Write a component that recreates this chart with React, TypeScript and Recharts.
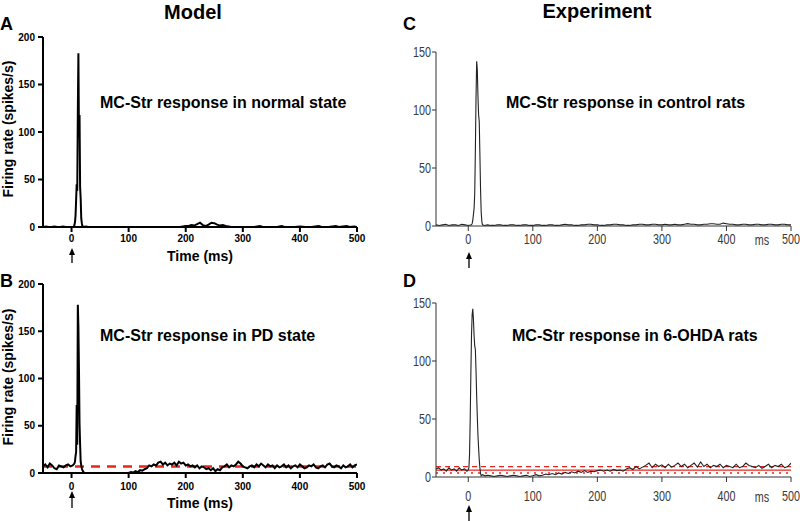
import React from "react";
import { LineChart, Line, XAxis, YAxis, ReferenceLine } from "recharts";

// ---------- data (time in ms, firing rate in spikes/s) ----------
const xTicks = [0, 100, 200, 300, 400, 500];
const modelYTicks = [0, 50, 100, 150, 200];
const expYTicks = [0, 50, 100, 150];

const modelNormal: [number, number][] = [
  [-50, 0], [-45, 0.5], [-40, 0], [-35, 0], [-30, 0.5], [-25, 0], [-20, 0], [-15, 0.5], [-10, 0], [-5, 0], [0, 0],
  [4, 0], [5, 2], [6, 5], [7, 12], [8, 28], [9, 45], [10, 38], [11, 120], [12, 183], [13, 95], [14, 118], [15, 42],
  [16, 30], [17, 9], [18, 4], [19, 1], [20, 0], [25, 0.5], [30, 0], [40, 0], [50, 0], [60, 0], [70, 0], [80, 0],
  [90, 0], [100, 0], [110, 0], [120, 0], [130, 0], [140, 0], [150, 0], [160, 0], [170, 0], [180, 0], [190, 0],
  [195, 0.5], [200, 1], [205, 1], [210, 2], [215, 1.5], [220, 3], [225, 4.5], [230, 2], [235, 1], [240, 2.5],
  [245, 4.5], [250, 4], [255, 2.5], [260, 1.5], [265, 2], [270, 1], [275, 0.5], [280, 0], [290, 0], [300, 0],
  [310, 0], [320, 0], [330, 1], [335, 0], [350, 0], [360, 0], [368, 1], [373, 0], [390, 0], [400, 0.5], [410, 0],
  [420, 0], [433, 1], [438, 0], [450, 0], [463, 1], [468, 0], [482, 1], [487, 0], [495, 0.5], [500, 0],
];

const modelPD: [number, number][] = [
  [-50, 7], [-46, 9], [-42, 6], [-38, 10], [-34, 8], [-30, 5], [-26, 4], [-22, 8], [-18, 7], [-14, 6], [-10, 8],
  [-6, 9], [-2, 7], [2, 8], [5, 10], [6, 12], [7, 18], [8, 22], [9, 72], [10, 30], [11, 178], [12, 155], [13, 110],
  [14, 52], [15, 30], [16, 12], [17, 8], [18, 5], [19, 3], [20, 2], [22, 0], [30, 0], [40, 0], [50, 0], [60, 0],
  [70, 0], [80, 0], [90, 0], [100, 0], [104, 1], [108, 0.5], [112, 2], [116, 1], [120, 3], [124, 2.5], [128, 4],
  [132, 5], [136, 8], [140, 7], [144, 9], [148, 8], [152, 11], [156, 12], [160, 9], [164, 11], [168, 8], [172, 10],
  [176, 9], [180, 11], [184, 8], [188, 12], [192, 10], [196, 11], [200, 8], [204, 9], [208, 7], [212, 8], [216, 6],
  [220, 8], [224, 5], [228, 7], [232, 6], [236, 4], [240, 5], [244, 3], [248, 5], [252, 2], [256, 4], [260, 3],
  [264, 6], [268, 7], [272, 9], [276, 6], [280, 8], [284, 7], [288, 9], [292, 12], [296, 10], [300, 7], [304, 6],
  [308, 5], [312, 7], [316, 8], [320, 6], [324, 9], [328, 7], [332, 10], [336, 8], [340, 6], [344, 9], [348, 7],
  [352, 8], [356, 5], [360, 8], [364, 6], [368, 7], [372, 9], [376, 6], [380, 8], [384, 5], [388, 7], [392, 8],
  [396, 6], [400, 9], [404, 7], [408, 5], [412, 6], [416, 8], [420, 7], [424, 9], [428, 6], [432, 5], [436, 7],
  [440, 8], [444, 6], [448, 9], [452, 10], [456, 7], [460, 6], [464, 8], [468, 7], [472, 5], [476, 8], [480, 6],
  [484, 7], [488, 9], [492, 6], [496, 8], [500, 9],
];

const expControl: [number, number][] = [
  [-50, 1], [-45, 0.5], [-40, 1], [-35, 1.5], [-30, 0.5], [-25, 1], [-20, 1], [-15, 0.5], [-10, 1.5], [-5, 1],
  [0, 0.5], [5, 1], [6, 2], [7, 5], [8, 10], [9, 15], [10, 28], [11, 65], [12, 110], [13, 142], [14, 135],
  [15, 112], [16, 96], [17, 90], [18, 62], [19, 32], [20, 12], [21, 4], [22, 1], [25, 0.5], [30, 1], [35, 0.5],
  [40, 0.5], [45, 1], [50, 1], [55, 0.5], [60, 0.5], [65, 1], [70, 1], [75, 0.5], [80, 0.5], [85, 1], [90, 1],
  [95, 0.5], [100, 0.5], [105, 1], [110, 1], [115, 0.5], [120, 0.5], [125, 1], [130, 1], [135, 0.5], [140, 0.5],
  [145, 1], [150, 1.5], [155, 1], [160, 1], [165, 0.5], [170, 0.5], [175, 1], [180, 1], [185, 1.5], [190, 1.5],
  [195, 1], [200, 1], [205, 0.5], [210, 0.5], [215, 1], [220, 1], [225, 1.5], [230, 1.5], [235, 1], [240, 1],
  [245, 0.5], [250, 0.5], [255, 1], [260, 1], [265, 1.5], [270, 1.5], [275, 1], [280, 1], [285, 1.5], [290, 1.5],
  [295, 1], [300, 1], [305, 1.5], [310, 1], [315, 1], [320, 1.5], [325, 1], [330, 1], [335, 1.5], [340, 2],
  [345, 1.5], [350, 1.5], [355, 1], [360, 1], [365, 1.5], [370, 1.5], [375, 2], [380, 2], [385, 1.5], [390, 1.5],
  [395, 2.5], [400, 2], [405, 1.5], [410, 1.5], [415, 1], [420, 1], [425, 1.5], [430, 1.5], [435, 1], [440, 1],
  [445, 1.5], [450, 1.5], [455, 1], [460, 1], [465, 1.5], [470, 1.5], [475, 1], [480, 1], [485, 1.5], [490, 1.5],
  [495, 1], [500, 1],
];

const expLesion: [number, number][] = [
  [-50, 7], [-46, 8], [-42, 6], [-38, 7], [-34, 5], [-30, 8], [-26, 6], [-22, 7], [-18, 5], [-14, 8], [-10, 6],
  [-6, 7], [-2, 5], [0, 6], [1, 8], [2, 20], [3, 50], [4, 88], [5, 122], [6, 140], [7, 145], [8, 136], [9, 122],
  [10, 113], [11, 110], [12, 92], [13, 70], [14, 52], [15, 36], [16, 25], [17, 15], [18, 8], [19, 3], [20, 1],
  [22, 2], [26, 1], [30, 1.5], [35, 1], [40, 0.5], [45, 1], [50, 1.5], [55, 1], [60, 0.5], [65, 1], [70, 1.5],
  [75, 1], [80, 0.5], [85, 1], [90, 1.5], [95, 0.5], [100, 1], [105, 2], [110, 1], [115, 1.5], [120, 2.5],
  [125, 2], [130, 3], [135, 2], [140, 3.5], [145, 2.5], [150, 4], [155, 3], [160, 4.5], [165, 3.5], [170, 5],
  [175, 4], [180, 5.5], [185, 4], [190, 5], [195, 4.5], [200, 5.5], [205, 6], [210, 5], [215, 6], [220, 5],
  [225, 6.5], [230, 5.5], [235, 6], [240, 5], [245, 7], [250, 8], [255, 6.5], [260, 9], [265, 7], [270, 8.5],
  [275, 10], [280, 12], [285, 8], [290, 11], [295, 9], [300, 10.5], [305, 8], [310, 11], [315, 8.5], [320, 10],
  [325, 12], [330, 9], [335, 11], [340, 8], [345, 10], [350, 12], [355, 8.5], [360, 13], [365, 9], [370, 11],
  [375, 8], [380, 10], [385, 9], [390, 11], [395, 8], [400, 10], [405, 9], [410, 8], [415, 11], [420, 8],
  [425, 9], [430, 12], [435, 10], [440, 9], [445, 8], [450, 10], [455, 7.5], [460, 9], [465, 11], [470, 8],
  [475, 10], [480, 9], [485, 11], [490, 8], [495, 9], [500, 12],
];

const pdBaseline = 7;
const lesionBaseline = 6;
const lesionUpper = 9;
const lesionLower = 3.5;

const titles = ["Model", "Experiment"];
const panelLetters = ["A", "B", "C", "D"];
const panelNotes = [
  "MC-Str response in normal state",
  "MC-Str response in PD state",
  "MC-Str response in control rats",
  "MC-Str response in 6-OHDA rats",
];
const yTitle = "Firing rate (spikes/s)";
const xTitle = "Time (ms)";
const unitLabel = "ms";

const RED = "#e8261e";
const SANS = "'Liberation Sans', Arial, Helvetica, sans-serif";
const CONDENSE = 0.72;
const COND_SIZE = 15;

const toRows = (pairs: [number, number][]) => pairs.map(([t, v]) => ({ t, v }));

// condensed tick labels for the experiment panels
const CondXTick = (p: any) => (
  <g transform={`translate(${p.x},${p.y})`}>
    <text transform={`scale(${CONDENSE},1)`} textAnchor="middle" dy="0.71em" fontSize={COND_SIZE} fill="#3a3a3a" fontFamily={SANS}>
      {p.payload.value}
    </text>
  </g>
);
const CondYTick = (p: any) => (
  <g transform={`translate(${p.x},${p.y})`}>
    <text transform={`scale(${CONDENSE},1)`} textAnchor="end" dy="0.355em" fontSize={COND_SIZE} fill="#3a3a3a" fontFamily={SANS}>
      {p.payload.value}
    </text>
  </g>
);

type RefSpec = { y: number; dash?: string; width: number };

function Panel(props: {
  left: number;
  top: number;
  width: number;
  height: number;
  mTop: number;
  mRight: number;
  yWidth: number;
  xHeight: number;
  data: [number, number][];
  yMax: number;
  yTicks: number[];
  kind: "model" | "exp";
  refs?: RefSpec[];
  xTickMargin: number;
}) {
  const model = props.kind === "model";
  const axisColor = model ? "#000" : "#333";
  const axisW = model ? 2 : 1;
  const tickStyle = { fontSize: 10, fontWeight: 700, fill: "#000", fontFamily: SANS };
  return (
    <div style={{ position: "absolute", left: props.left, top: props.top }}>
      <LineChart
        width={props.width}
        height={props.height}
        data={toRows(props.data)}
        margin={{ top: props.mTop, right: props.mRight, bottom: 0, left: 0 }}
      >
        <XAxis
          dataKey="t"
          type="number"
          domain={[-50, 500]}
          ticks={xTicks}
          interval={0}
          height={props.xHeight}
          tickSize={5}
          tickMargin={props.xTickMargin}
          axisLine={{ stroke: axisColor, strokeWidth: axisW }}
          tickLine={{ stroke: axisColor, strokeWidth: axisW }}
          tick={model ? tickStyle : CondXTick}
          allowDataOverflow
        />
        <YAxis
          type="number"
          domain={[0, props.yMax]}
          ticks={props.yTicks}
          interval={0}
          width={props.yWidth}
          tickSize={model ? 5 : 4}
          tickMargin={model ? 3 : 1}
          axisLine={{ stroke: axisColor, strokeWidth: axisW }}
          tickLine={{ stroke: axisColor, strokeWidth: axisW }}
          tick={model ? tickStyle : CondYTick}
          allowDataOverflow
        />
        {(props.refs || []).map((r, i) => (
          <ReferenceLine
            key={i}
            y={r.y}
            stroke={RED}
            strokeWidth={r.width}
            strokeDasharray={r.dash}
          />
        ))}
        <Line
          dataKey="v"
          type="linear"
          stroke={model ? "#000" : "#222"}
          strokeWidth={model ? 2 : 1.1}
          dot={false}
          isAnimationActive={false}
        />
      </LineChart>
    </div>
  );
}

function Arrow({ x, tip, tail }: { x: number; tip: number; tail: number }) {
  return (
    <g>
      <line x1={x} y1={tip + 3} x2={x} y2={tail} stroke="#000" strokeWidth={1.3} />
      <polygon points={`${x - 3},${tip + 7} ${x},${tip} ${x + 3},${tip + 7}`} fill="#000" />
    </g>
  );
}

export default function App() {
  return (
    <div
      style={{
        position: "absolute",
        left: 0,
        top: 0,
        width: 800,
        height: 521,
        background: "#fff",
        overflow: "hidden",
      }}
    >
      <Panel left={0} top={0} width={400} height={260} mTop={37} mRight={43} yWidth={43} xHeight={33}
        data={modelNormal} yMax={200} yTicks={modelYTicks} kind="model" xTickMargin={3} />
      <Panel left={0} top={260} width={400} height={261} mTop={24} mRight={43} yWidth={43} xHeight={48}
        data={modelPD} yMax={200} yTicks={modelYTicks} kind="model" xTickMargin={5}
        refs={[{ y: pdBaseline, dash: "9 7", width: 2.5 }]} />
      <Panel left={400} top={0} width={400} height={260} mTop={52} mRight={9} yWidth={36} xHeight={34}
        data={expControl} yMax={150} yTicks={expYTicks} kind="exp" xTickMargin={2} />
      <Panel left={400} top={260} width={400} height={261} mTop={43} mRight={9} yWidth={36} xHeight={44}
        data={expLesion} yMax={150} yTicks={expYTicks} kind="exp" xTickMargin={8}
        refs={[
          { y: lesionUpper, dash: "5 4", width: 1.2 },
          { y: lesionBaseline, width: 1.3 },
          { y: lesionLower, dash: "2 5", width: 1.5 },
        ]} />

      <svg
        width={800}
        height={521}
        style={{ position: "absolute", left: 0, top: 0, pointerEvents: "none" }}
      >
        <g fontFamily={SANS} fontWeight={700} fill="#000">
          <text x={193} y={19} fontSize={20} textAnchor="middle">{titles[0]}</text>
          <text x={597} y={18} fontSize={20} textAnchor="middle">{titles[1]}</text>

          <text x={0} y={30} fontSize={18}>{panelLetters[0]}</text>
          <text x={0} y={287} fontSize={18}>{panelLetters[1]}</text>
          <text x={403} y={30} fontSize={18}>{panelLetters[2]}</text>
          <text x={403} y={287} fontSize={18}>{panelLetters[3]}</text>

          <text x={100} y={108} fontSize={16}>{panelNotes[0]}</text>
          <text x={100} y={341} fontSize={16}>{panelNotes[1]}</text>
          <text x={506} y={108} fontSize={16}>{panelNotes[2]}</text>
          <text x={512} y={341} fontSize={16}>{panelNotes[3]}</text>

          <text x={0} y={0} fontSize={14} textAnchor="middle" transform="translate(13,129) rotate(-90)">{yTitle}</text>
          <text x={0} y={0} fontSize={14} textAnchor="middle" transform="translate(13,377) rotate(-90)">{yTitle}</text>

          <text x={200} y={261} fontSize={14} textAnchor="middle">{xTitle}</text>
          <text x={200} y={508} fontSize={14} textAnchor="middle">{xTitle}</text>
        </g>
        <text transform={`translate(762,245) scale(${CONDENSE},1)`} fontSize={COND_SIZE} fill="#3a3a3a" fontFamily={SANS} textAnchor="middle">{unitLabel}</text>
        <text transform={`translate(762,502) scale(${CONDENSE},1)`} fontSize={COND_SIZE} fill="#3a3a3a" fontFamily={SANS} textAnchor="middle">{unitLabel}</text>

        <Arrow x={72} tip={248} tail={263} />
        <Arrow x={72} tip={491} tail={508} />
        <Arrow x={469} tip={252} tail={268} />
        <Arrow x={469} tip={505} tail={521} />
      </svg>
    </div>
  );
}
